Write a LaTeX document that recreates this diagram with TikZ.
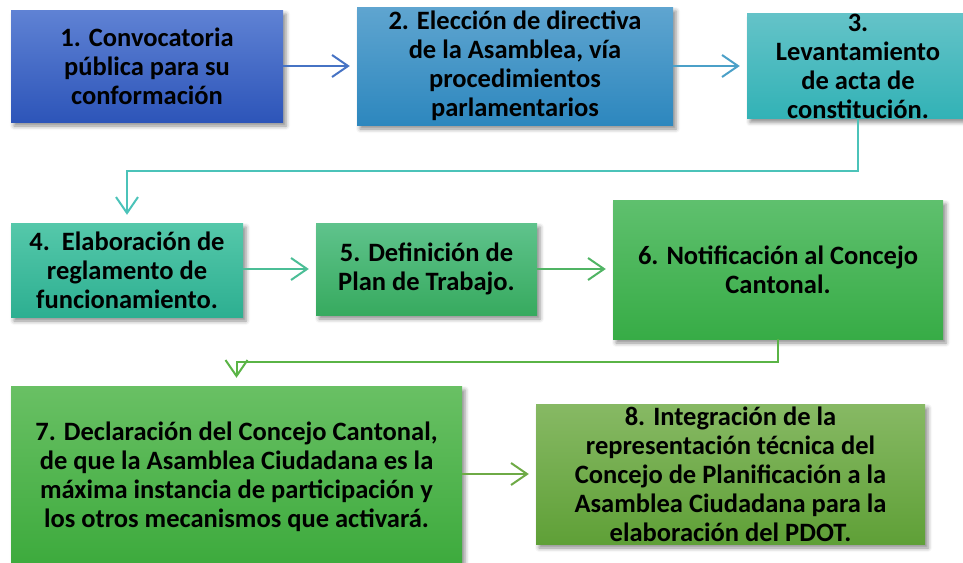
\documentclass[tikz,border=0pt]{standalone}
\usepackage{fontspec}
\setmainfont{Carlito}
\usetikzlibrary{arrows.meta,shadows.blur}
\definecolor{ctA}{RGB}{95,130,212}\definecolor{cbA}{RGB}{45,85,185}
\definecolor{ctB}{RGB}{95,165,208}\definecolor{cbB}{RGB}{45,135,190}
\definecolor{ctC}{RGB}{100,195,200}\definecolor{cbC}{RGB}{50,178,182}
\definecolor{ctD}{RGB}{85,200,170}\definecolor{cbD}{RGB}{45,175,145}
\definecolor{ctE}{RGB}{95,195,140}\definecolor{cbE}{RGB}{55,170,95}
\definecolor{ctF}{RGB}{95,192,110}\definecolor{cbF}{RGB}{55,172,70}
\definecolor{ctG}{RGB}{105,192,100}\definecolor{cbG}{RGB}{60,170,60}
\definecolor{ctH}{RGB}{135,185,100}\definecolor{cbH}{RGB}{95,160,55}
\definecolor{aA}{RGB}{70,115,196}
\definecolor{aB}{RGB}{75,160,200}
\definecolor{aC}{RGB}{75,195,185}
\definecolor{aD}{RGB}{75,190,150}
\definecolor{aE}{RGB}{80,180,100}
\definecolor{aF}{RGB}{90,180,70}
\definecolor{aG}{RGB}{110,170,70}
\begin{document}
\begin{tikzpicture}[x=1pt,y=-1pt,
  stepbox/.style={rectangle, inner sep=0pt, align=center, text=black,
    font=\fontsize{26.5}{29}\selectfont\bfseries,
    blur shadow={shadow xshift=3pt, shadow yshift=-4pt, shadow blur radius=4pt, shadow opacity=45}},
  conn/.style={line width=2pt, -{Straight Barb[length=16pt,width=22pt,line width=2pt]}, shorten >=7pt}]
\useasboundingbox (0,0) rectangle (963,562);
\node[stepbox, minimum width=272pt, minimum height=112pt, top color=ctA, bottom color=cbA] (n1) at (147,66)
  {1. Convocatoria\\pública para su\\conformación};
\node[stepbox, minimum width=316pt, minimum height=118pt, top color=ctB, bottom color=cbB] (n2) at (515,66)
  {2. Elección de directiva\\de la Asamblea, vía\\procedimientos\\parlamentarios};
\node[stepbox, minimum width=222pt, minimum height=98pt, top color=ctC, bottom color=cbC] (n3) at (858,66)
  {3.\\Levantamiento\\de acta de\\constitución.};
\node[stepbox, minimum width=232pt, minimum height=94pt, top color=ctD, bottom color=cbD] (n4) at (127,270)
  {4.\ \ Elaboración de\\reglamento de\\funcionamiento.};
\node[stepbox, minimum width=221pt, minimum height=92pt, top color=ctE, bottom color=cbE] (n5) at (426.5,269)
  {5. Definición de\\Plan de Trabajo.};
\node[stepbox, minimum width=330pt, minimum height=139pt, top color=ctF, bottom color=cbF] (n6) at (778,269.5)
  {6. Notificación al Concejo\\Cantonal.};
\node[stepbox, minimum width=451pt, minimum height=182pt, top color=ctG, bottom color=cbG] (n7) at (236.5,477)
  {7. Declaración del Concejo Cantonal,\\de que la Asamblea Ciudadana es la\\máxima instancia de participación y\\los otros mecanismos que activará.};
\node[stepbox, minimum width=389pt, minimum height=140pt, top color=ctH, bottom color=cbH] (n8) at (730.5,474)
  {8. Integración de la\\representación técnica del\\Concejo de Planificación a la\\Asamblea Ciudadana para la\\elaboración del PDOT.};
\draw[conn, aA] (n1) -- (n2);
\draw[conn, aB] (n2) -- (n3);
\draw[conn, aC, shorten >=8pt] (n3.south) -- ++(0,53) -| (n4.north);
\draw[conn, aD] (n4.east |- n5) -- (n5);
\draw[conn, aE] (n5) -- (n6.west |- n5);
\draw[conn, aF, shorten >=8pt] (n6.south) -- ++(0,23) -| (n7.north);
\draw[conn, aG] (n7.east |- n8) -- (n8);
\end{tikzpicture}
\end{document}
